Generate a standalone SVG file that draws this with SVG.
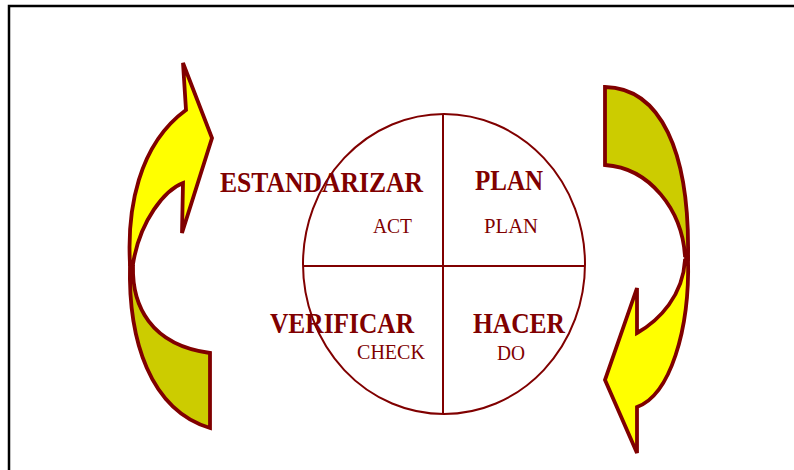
<svg xmlns="http://www.w3.org/2000/svg" width="794" height="470" viewBox="0 0 794 470">
<style>
.big{font-family:"Liberation Serif","Times New Roman",serif;font-weight:bold;font-size:30px;fill:#800000}
.small{font-family:"Liberation Serif","Times New Roman",serif;font-size:21px;fill:#800000}
.arrow{stroke:#800000;stroke-width:3.8;stroke-linejoin:miter}
.y1{fill:#FFFF00}
.y2{fill:#CCCC00}
.ln{stroke:#800000;stroke-width:2;fill:none}
</style>
<rect x="0" y="0" width="794" height="470" fill="#fff"/>
<rect x="9" y="6" width="800" height="480" fill="none" stroke="#000" stroke-width="2.5"/>
<g id="left-arrow">
<path class="arrow y2" d="M130,264 C128,340 150,410 210,428 L210,353 C150,345 132,305 133,266 Z"/>
<path class="arrow y1" d="M130,264 C127,210 138,145 186,110 L183,63 L212,138 L182,233 L183,183 C165,190 140,220 133,264 Z"/>
</g>
<g id="right-arrow">
<path class="arrow y2" d="M605,87 C660,88 690,150 688,258 L685,256 C682,210 650,168 605,165 Z"/>
<path class="arrow y1" d="M688,258 C690,330 670,395 637,407 L637,453 L605,380 L637,288 L637,333 C660,320 683,295 685,260 Z"/>
</g>
<g id="cycle">
<ellipse class="ln" cx="444" cy="264" rx="141" ry="150"/>
<line class="ln" x1="304" y1="266" x2="585" y2="266"/>
<line class="ln" x1="443" y1="114" x2="443" y2="414"/>
</g>
<g id="act">
<text class="big" x="220" y="192" textLength="203" lengthAdjust="spacingAndGlyphs">ESTANDARIZAR</text>
<text class="small" x="373" y="233" textLength="39" lengthAdjust="spacingAndGlyphs">ACT</text>
</g>
<g id="plan">
<text class="big" x="475" y="190" textLength="68" lengthAdjust="spacingAndGlyphs">PLAN</text>
<text class="small" x="484" y="233" textLength="54" lengthAdjust="spacingAndGlyphs">PLAN</text>
</g>
<g id="check">
<text class="big" x="270" y="333" textLength="144" lengthAdjust="spacingAndGlyphs">VERIFICAR</text>
<text class="small" x="357" y="359" textLength="68" lengthAdjust="spacingAndGlyphs">CHECK</text>
</g>
<g id="do">
<text class="big" x="473" y="333" textLength="92" lengthAdjust="spacingAndGlyphs">HACER</text>
<text class="small" x="497" y="360" textLength="28" lengthAdjust="spacingAndGlyphs">DO</text>
</g>
</svg>
